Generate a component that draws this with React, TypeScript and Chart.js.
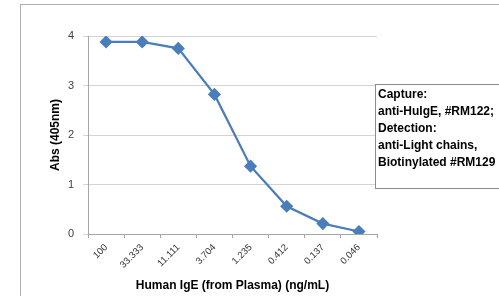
import React, { useEffect, useRef } from "react";
import { Chart, registerables } from "chart.js";

Chart.register(...registerables);

const categories = ["100", "33.333", "11.111", "3.704", "1.235", "0.412", "0.137", "0.046"];
const absValues = [3.88, 3.88, 3.75, 2.82, 1.37, 0.56, 0.21, 0.05];
const yTicks = [0, 1, 2, 3, 4];
const legendLines = [
  "Capture:",
  "anti-HuIgE, #RM122;",
  "Detection:",
  "anti-Light chains,",
  "Biotinylated #RM129",
];
const xTitle = "Human IgE (from Plasma) (ng/mL)";
const yTitle = "Abs (405nm)";

const FONT = "'Liberation Sans', Arial, sans-serif";

const framePlugin = {
  id: "frame",
  beforeDraw(chart: any) {
    const ctx = chart.ctx;
    ctx.save();
    ctx.fillStyle = "#ffffff";
    ctx.fillRect(0, 0, chart.width, chart.height);
    ctx.strokeStyle = "#b0b0b0";
    ctx.lineWidth = 1;
    ctx.strokeRect(20.5, 4.5, 700, 500);
    ctx.restore();
  },
  afterDraw(chart: any) {
    const ctx = chart.ctx;
    ctx.save();
    ctx.fillStyle = "#ffffff";
    ctx.fillRect(375.5, 84.5, 200, 104);
    ctx.strokeStyle = "#8c8c8c";
    ctx.lineWidth = 1;
    ctx.strokeRect(375.5, 84.5, 200, 104);
    ctx.fillStyle = "#000000";
    ctx.font = "bold 12px " + FONT;
    ctx.textBaseline = "middle";
    ctx.textAlign = "left";
    legendLines.forEach((t, i) => {
      ctx.fillText(t, 378, 95 + i * 17);
    });
    ctx.restore();
  },
};

export default function App() {
  const ref = useRef<HTMLCanvasElement | null>(null);
  useEffect(() => {
    if (!ref.current) return;
    const chart = new Chart(ref.current, {
      type: "line",
      data: {
        labels: categories,
        datasets: [
          {
            data: absValues,
            borderColor: "#4a7ebb",
            backgroundColor: "#4a7ebb",
            borderWidth: 2.25,
            pointStyle: "rectRot",
            pointRadius: 5,
            pointBackgroundColor: "#4a7ebb",
            pointBorderColor: "#4a7ebb",
            tension: 0,
          },
        ],
      },
      options: {
        responsive: false,
        animation: false,
        layout: { padding: { left: 48, right: 122, top: 36, bottom: 3 } },
        plugins: { legend: { display: false }, tooltip: { enabled: false } },
        scales: {
          x: {
            type: "category",
            offset: true,
            grid: {
              offset: true,
              drawOnChartArea: false,
              drawTicks: true,
              tickLength: 4,
              color: "#a6a6a6",
            },
            border: { color: "#a6a6a6", width: 1 },
            ticks: {
              minRotation: 45,
              maxRotation: 45,
              autoSkip: false,
              padding: 4,
              color: "#333333",
              font: { family: FONT, size: 9.5 },
            },
            title: {
              display: true,
              text: xTitle,
              color: "#000000",
              padding: 0,
              font: { family: FONT, size: 12, weight: "bold" },
            },
            afterFit: (s: any) => {
              s.height = 296 - 234 - 3;
            },
          },
          y: {
            min: 0,
            max: 4,
            afterBuildTicks: (s: any) => {
              s.ticks = yTicks.map((v) => ({ value: v }));
            },
            grid: {
              color: "#d4d4d4",
              tickLength: 5,
              drawTicks: true,
            },
            border: { color: "#a6a6a6", width: 1 },
            ticks: {
              padding: 9,
              color: "#404040",
              font: { family: FONT, size: 11 },
            },
            title: {
              display: true,
              text: yTitle,
              color: "#000000",
              padding: 0,
              font: { family: FONT, size: 12, weight: "bold" },
            },
            afterFit: (s: any) => {
              s.width = 40;
            },
          },
        },
      },
      plugins: [framePlugin],
    } as any);
    return () => chart.destroy();
  }, []);
  return (
    <div style={{ position: "fixed", left: 0, top: 0, width: 499, height: 296 }}>
      <canvas ref={ref} width={499} height={296} style={{ width: 499, height: 296 }} />
    </div>
  );
}
